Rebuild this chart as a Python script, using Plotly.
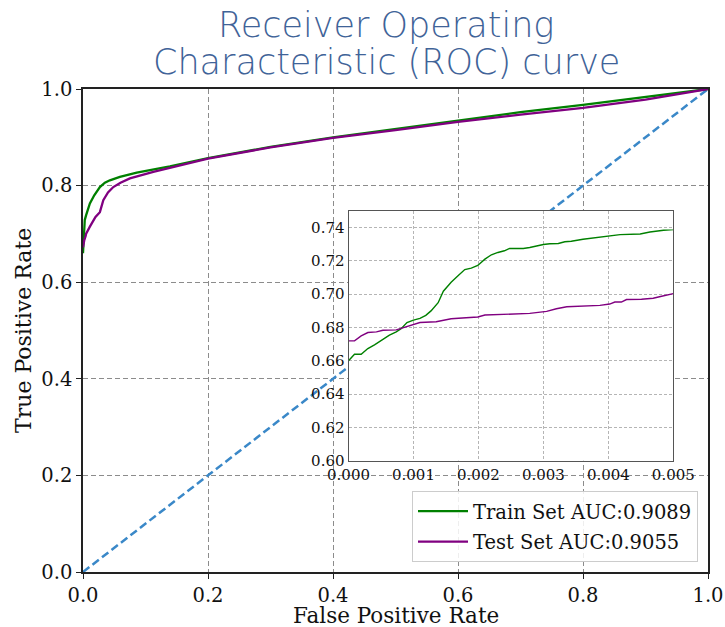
import plotly.graph_objects as go

# ROC curve points (false positive rate, true positive rate)
train_fpr = [0.0, 0.0000925, 0.000195, 0.000298, 0.0004, 0.00053, 0.00063, 0.000735,
             0.00081, 0.0009, 0.001, 0.0011, 0.00119, 0.00127, 0.00138, 0.00146,
             0.00158, 0.00169, 0.00179, 0.00189, 0.00199, 0.0021, 0.0022, 0.0023,
             0.0024, 0.00248, 0.00269, 0.00279, 0.00289, 0.003, 0.0031, 0.00323,
             0.00333, 0.00343, 0.00361, 0.00377, 0.00397, 0.00418, 0.00449, 0.00464,
             0.00485, 0.005,
             0.011, 0.018, 0.027, 0.035, 0.043, 0.059, 0.086, 0.139, 0.2, 0.3,
             0.4, 0.5, 0.6, 0.7, 0.8, 0.9, 1.0]
train_tpr = [0.660, 0.664, 0.664, 0.6674, 0.6696, 0.673, 0.6754, 0.6774,
             0.6793, 0.683, 0.6845, 0.6855, 0.6873, 0.690, 0.6949, 0.7018,
             0.7072, 0.7112, 0.7148, 0.7157, 0.7173, 0.7211, 0.7237, 0.7251,
             0.7261, 0.7275, 0.7275, 0.7281, 0.7291, 0.7299, 0.7303, 0.7305,
             0.7315, 0.7318, 0.7330, 0.7338, 0.7350, 0.7358, 0.7362, 0.7374,
             0.7384, 0.7388,
             0.763, 0.780, 0.797, 0.806, 0.811, 0.818, 0.827, 0.840, 0.857, 0.880,
             0.900, 0.917, 0.935, 0.952, 0.967, 0.984, 1.0]

test_fpr = [0.0, 0.0000925, 0.000195, 0.000298, 0.00043, 0.00053, 0.000735, 0.00086,
            0.00099, 0.0011, 0.00135, 0.00158, 0.00181, 0.00199, 0.0021, 0.00233,
            0.00259, 0.00279, 0.00305, 0.0032, 0.00336, 0.00361, 0.00387, 0.00402,
            0.0041, 0.0042, 0.00428, 0.00451, 0.00469, 0.00482, 0.005,
            0.011, 0.02, 0.027, 0.0325, 0.04, 0.0485, 0.06, 0.075, 0.1125, 0.155,
            0.2, 0.3, 0.4, 0.5, 0.6, 0.7, 0.8, 0.9, 1.0]
test_tpr = [0.672, 0.672, 0.675, 0.677, 0.6774, 0.6784, 0.6786, 0.680,
            0.6814, 0.683, 0.6835, 0.6853, 0.6859, 0.6863, 0.6875, 0.6877,
            0.6881, 0.6885, 0.6897, 0.6913, 0.6925, 0.6927, 0.6933, 0.6941,
            0.6953, 0.6953, 0.6968, 0.697, 0.6976, 0.6988, 0.7004,
            0.715, 0.735, 0.745, 0.770, 0.786, 0.797, 0.806, 0.815, 0.8286, 0.8425,
            0.856, 0.879, 0.899, 0.915, 0.932, 0.947, 0.961, 0.978, 1.0]

chance_line = [0.0, 1.0]

train_label = "Train Set AUC:0.9089"
test_label = "Test Set AUC:0.9055"
title_lines = ["Receiver Operating", "Characteristic (ROC) curve"]
main_ticks = [0.0, 0.2, 0.4, 0.6, 0.8, 1.0]
inset_xticks = [0.0, 0.001, 0.002, 0.003, 0.004, 0.005]
inset_yticks = [0.60, 0.62, 0.64, 0.66, 0.68, 0.70, 0.72, 0.74]

GREEN = "#008000"
PURPLE = "#800080"
BLUE = "#3a88c8"
SERIF = "DejaVu Serif"
TITLE_FONT = dict(family="DejaVu Sans", size=35, color="#3f6398", weight=300)

fig = go.Figure()

# main axes
fig.add_trace(go.Scatter(x=chance_line, y=chance_line, mode="lines",
                         line=dict(color=BLUE, width=2.5, dash="8px,4px"),
                         showlegend=False, hoverinfo="skip", xaxis="x", yaxis="y"))
fig.add_trace(go.Scatter(x=train_fpr, y=train_tpr, mode="lines", name=train_label,
                         line=dict(color=GREEN, width=2.3), legendgroup="train",
                         xaxis="x", yaxis="y"))
fig.add_trace(go.Scatter(x=test_fpr, y=test_tpr, mode="lines", name=test_label,
                         line=dict(color=PURPLE, width=2.3), legendgroup="test",
                         xaxis="x", yaxis="y"))

# zoomed inset
fig.add_trace(go.Scatter(x=train_fpr, y=train_tpr, mode="lines", showlegend=False,
                         line=dict(color=GREEN, width=1.4), xaxis="x2", yaxis="y2"))
fig.add_trace(go.Scatter(x=test_fpr, y=test_tpr, mode="lines", showlegend=False,
                         line=dict(color=PURPLE, width=1.4), xaxis="x2", yaxis="y2"))

main_axis = dict(range=[0, 1], tickvals=main_ticks, tickformat=".1f", automargin=False,
                 showline=True, linecolor="#222222", linewidth=1.5, mirror=True,
                 ticks="outside", ticklen=5, tickwidth=1.2, tickcolor="#222222",
                 showgrid=True, gridcolor="#8c8c8c", gridwidth=1.2, griddash="5px,3px",
                 zeroline=False, tickfont=dict(family=SERIF, size=19.5, color="#111111"))

inset_axis = dict(showline=True, linecolor="#555555", linewidth=1, mirror=True,
                  ticks="", showgrid=True, gridcolor="#b5b5b5", gridwidth=0.8,
                  griddash="3px,2px", zeroline=False, automargin=False,
                  tickfont=dict(family=SERIF, size=15, color="#111111"))

fig.update_layout(
    width=725, height=627,
    margin=dict(l=83, r=17, t=89, b=55, autoexpand=False),
    paper_bgcolor="white", plot_bgcolor="white",
    xaxis=dict(**main_axis, domain=[0, 1], anchor="y"),
    yaxis=dict(**main_axis, domain=[0, 1], anchor="x"),
    xaxis2=dict(**inset_axis, domain=[0.4248, 0.9445], anchor="y2",
                range=[0, 0.005], tickvals=inset_xticks, tickformat=".3f"),
    yaxis2=dict(**inset_axis, domain=[0.2304, 0.7474], anchor="x2",
                range=[0.60, 0.75], tickvals=inset_yticks, tickformat=".2f"),
    legend=dict(x=0.984, y=0.0207, xanchor="right", yanchor="bottom",
                bgcolor="rgba(255,255,255,0.85)", bordercolor="#cccccc", borderwidth=1,
                font=dict(family=SERIF, size=19.5, color="#111111"),
                traceorder="grouped", tracegroupgap=2, itemwidth=50),
    showlegend=True,
)

annotations = [
    dict(text=title_lines[0], x=0.4848, y=1.1325, xref="paper", yref="paper",
         xanchor="center", yanchor="middle", showarrow=False, font=TITLE_FONT),
    dict(text=title_lines[1], x=0.4848, y=1.0559, xref="paper", yref="paper",
         xanchor="center", yanchor="middle", showarrow=False, font=TITLE_FONT),
    dict(text="False Positive Rate", x=0.5, y=-0.091, xref="paper", yref="paper",
         xanchor="center", yanchor="middle", showarrow=False,
         font=dict(family=SERIF, size=21.5, color="#111111")),
    dict(text="True Positive Rate", x=-0.0944, y=0.499, xref="paper", yref="paper",
         xanchor="center", yanchor="middle", showarrow=False, textangle=-90,
         font=dict(family=SERIF, size=22, color="#111111")),
]
fig.update_layout(annotations=annotations)

fig.write_html("out.html")
